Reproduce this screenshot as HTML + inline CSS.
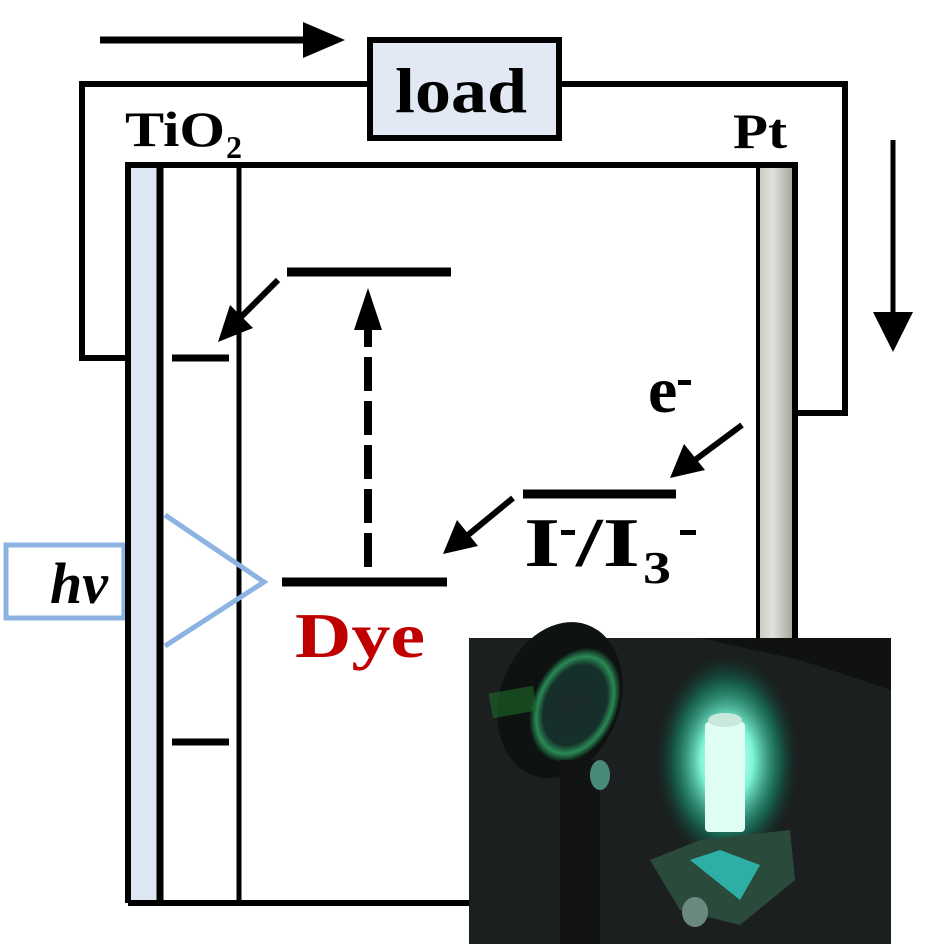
<!DOCTYPE html>
<html><head><meta charset="utf-8"><style>
html,body{margin:0;padding:0;background:#fff;}
svg{display:block;}
</style></head><body>
<svg width="938" height="944" viewBox="0 0 938 944" xmlns="http://www.w3.org/2000/svg">
<defs>
<linearGradient id="pt" x1="0" x2="1">
<stop offset="0" stop-color="#c9c7c0"/><stop offset="0.4" stop-color="#e4e2dc"/><stop offset="1" stop-color="#a9a7a0"/>
</linearGradient>
<radialGradient id="glow" cx="0.5" cy="0.5" r="0.5">
<stop offset="0" stop-color="#e8fff8"/><stop offset="0.35" stop-color="#7ff5d6"/><stop offset="0.7" stop-color="#138a6a" stop-opacity="0.6"/><stop offset="1" stop-color="#0b1a16" stop-opacity="0"/>
</radialGradient>
<radialGradient id="lens" cx="0.5" cy="0.5" r="0.5">
<stop offset="0" stop-color="#1a2a28"/><stop offset="0.7" stop-color="#15302a"/><stop offset="0.85" stop-color="#2a8a55"/><stop offset="1" stop-color="#0b1512"/>
</radialGradient>
</defs>
<!-- top arrow -->
<line x1="100" y1="40" x2="320" y2="40" stroke="#000" stroke-width="7"/>
<polygon points="345,40 303,22 303,58" fill="#000"/>
<!-- outer wire -->
<polyline points="127,358 82,358 82,84 370,84" fill="none" stroke="#000" stroke-width="6"/>
<polyline points="560,84 845,84 845,413 797,413" fill="none" stroke="#000" stroke-width="6"/>
<!-- load box -->
<rect x="370" y="40" width="189" height="98" fill="#e2e8f4" stroke="#000" stroke-width="6"/>
<text x="395" y="112" font-family="Liberation Serif, serif" font-weight="bold" font-size="64" textLength="132" lengthAdjust="spacingAndGlyphs">load</text>
<!-- labels -->
<text x="125" y="146" font-family="Liberation Serif, serif" font-weight="bold" font-size="50" textLength="100" lengthAdjust="spacingAndGlyphs">TiO</text><text x="226" y="158" font-family="Liberation Serif, serif" font-weight="bold" font-size="32">2</text>
<text x="733" y="148" font-family="Liberation Serif, serif" font-weight="bold" font-size="50" textLength="54" lengthAdjust="spacingAndGlyphs">Pt</text>
<!-- right down arrow -->
<line x1="893" y1="140" x2="893" y2="320" stroke="#000" stroke-width="5"/>
<polygon points="893,352 873,312 913,312" fill="#000"/>
<!-- hv -->
<rect x="6" y="545" width="118" height="73" fill="#fff" stroke="#8db3e2" stroke-width="5"/>
<text x="50" y="603" font-family="Liberation Serif, serif" font-weight="bold" font-style="italic" font-size="58">hv</text>
<!-- cell -->
<rect x="130" y="166" width="27" height="734" fill="#dfe6f3"/>
<rect x="759" y="166" width="33" height="734" fill="url(#pt)"/>
<polyline points="128,903 128,165 795,165 795,903" fill="none" stroke="#000" stroke-width="6"/>
<line x1="128" y1="903" x2="795" y2="903" stroke="#000" stroke-width="6"/>
<line x1="160" y1="166" x2="160" y2="903" stroke="#000" stroke-width="7"/>
<line x1="239" y1="166" x2="239" y2="903" stroke="#000" stroke-width="5"/>
<line x1="758" y1="166" x2="758" y2="903" stroke="#000" stroke-width="4"/>
<polyline points="165,515 264,582 165,646" fill="none" stroke="#8db3e2" stroke-width="5"/>
<!-- levels -->
<line x1="172" y1="358" x2="229" y2="358" stroke="#000" stroke-width="7"/>
<line x1="172" y1="742" x2="229" y2="742" stroke="#000" stroke-width="7"/>
<line x1="287" y1="272" x2="451" y2="272" stroke="#000" stroke-width="9"/>
<line x1="282" y1="582" x2="447" y2="582" stroke="#000" stroke-width="9"/>
<line x1="523" y1="494" x2="676" y2="494" stroke="#000" stroke-width="9"/>
<!-- dashed -->
<line x1="368" y1="567" x2="368" y2="320" stroke="#000" stroke-width="8" stroke-dasharray="34,10"/>
<polygon points="368,288 354,330 382,330" fill="#000"/>
<!-- arrows -->
<line x1="278" y1="280" x2="236" y2="322" stroke="#000" stroke-width="6"/>
<polygon points="218,342 230,305 253,328" fill="#000"/>
<line x1="742" y1="425" x2="695" y2="460" stroke="#000" stroke-width="6"/>
<polygon points="670,478 684,444 705,470" fill="#000"/>
<line x1="513" y1="498" x2="468" y2="535" stroke="#000" stroke-width="6"/>
<polygon points="443,554 457,520 478,546" fill="#000"/>
<!-- texts -->
<text x="648" y="412" font-family="Liberation Serif, serif" font-weight="bold" font-size="66">e</text>
<rect x="678" y="380" width="13" height="5" fill="#000"/>
<text x="524" y="566" font-family="Liberation Serif, serif" font-weight="bold" font-size="70" textLength="36" lengthAdjust="spacingAndGlyphs">I</text>
<rect x="561" y="530" width="14" height="5" fill="#000"/>
<text x="576" y="566" font-family="Liberation Serif, serif" font-weight="bold" font-size="70" textLength="64" lengthAdjust="spacingAndGlyphs">/I</text>
<text x="643" y="583" font-family="Liberation Serif, serif" font-weight="bold" font-size="46" textLength="28" lengthAdjust="spacingAndGlyphs">3</text>
<rect x="680" y="530" width="16" height="5" fill="#000"/>
<text x="295" y="657" font-family="Liberation Serif, serif" font-weight="bold" font-size="64" fill="#c00000" textLength="130" lengthAdjust="spacingAndGlyphs">Dye</text>
<!-- photo -->
<rect x="469" y="638" width="422" height="306" fill="#1c1f1f"/>
<polygon points="700,638 891,638 891,690 800,660" fill="#101212"/>
<ellipse cx="560" cy="700" rx="60" ry="80" fill="#0e1211" transform="rotate(20 560 700)"/>
<ellipse cx="575" cy="705" rx="42" ry="60" fill="url(#lens)" transform="rotate(25 575 705)"/>
<rect x="490" y="690" width="45" height="25" fill="#1d6a2a" opacity="0.6" transform="rotate(-10 510 700)"/>
<rect x="560" y="760" width="40" height="184" fill="#121414"/>
<ellipse cx="600" cy="775" rx="10" ry="15" fill="#4a8a7a"/>
<ellipse cx="727" cy="760" rx="75" ry="110" fill="url(#glow)"/>
<polygon points="650,860 700,840 790,830 795,880 740,925 680,910" fill="#2a4a3c"/>
<polygon points="690,860 720,850 760,865 740,900" fill="#30c8c0" opacity="0.8"/>
<rect x="705" y="722" width="40" height="110" rx="4" fill="#dffff5"/>
<ellipse cx="725" cy="720" rx="17" ry="7" fill="#c8e8dc"/>
<ellipse cx="695" cy="912" rx="13" ry="15" fill="#6a8a80"/>
</svg>
</body></html>
